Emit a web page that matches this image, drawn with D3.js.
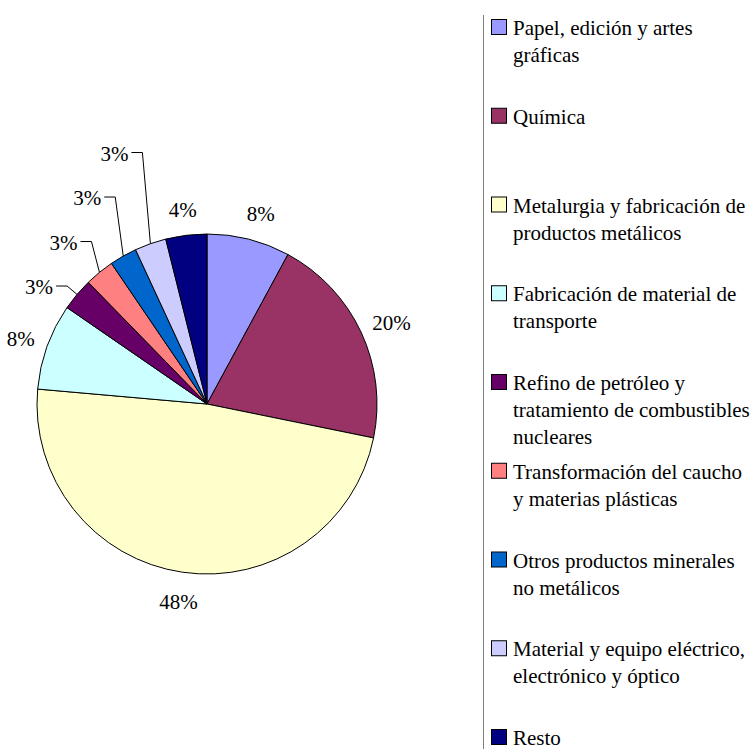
<!DOCTYPE html>
<html>
<head>
<meta charset="utf-8">
<script src="https://cdn.jsdelivr.net/npm/d3@7"></script>
</head>
<body style="margin:0; background:#fff">
<script>
// sectors, clockwise from 12 o'clock
var categories = [
  "Papel, edición y artes\ngráficas",
  "Química",
  "Metalurgia y fabricación de\nproductos metálicos",
  "Fabricación de material de\ntransporte",
  "Refino de petróleo y\ntratamiento de combustibles\nnucleares",
  "Transformación del caucho\ny materias plásticas",
  "Otros productos minerales\nno metálicos",
  "Material y equipo eléctrico,\nelectrónico y óptico",
  "Resto"
];
var shares = [7.9, 20.3, 48.2, 8.2, 3.1, 2.8, 2.6, 3.0, 3.9];
var colors = ["#9999FF", "#993366", "#FFFFCC", "#CCFFFF", "#660066",
              "#FF8080", "#0066CC", "#CCCCFF", "#000080"];

var width = 756, height = 749;
var cx = 207, cy = 404, radius = 170;
var FONT = "'Liberation Serif'";

var svg = d3.select("body").append("svg")
    .attr("width", width)
    .attr("height", height);

var data = categories.map(function(c, i) {
  return { name: c, value: shares[i], color: colors[i] };
});

var pie = d3.pie().sort(null).value(function(d) { return d.value; });
var arcs = pie(data);
var arc = d3.arc().innerRadius(0).outerRadius(radius);

var g = svg.append("g")
    .attr("transform", "translate(" + cx + "," + cy + ")");

g.selectAll(".slice")
    .data(arcs)
  .enter().append("path")
    .attr("class", "slice")
    .attr("d", arc)
    .style("fill", function(d) { return d.data.color; })
    .style("stroke", "#000")
    .style("stroke-width", 1);

// percent labels
var fmt = function(d) { return Math.round(d.data.value) + "%"; };
var labelArc = d3.arc().innerRadius(radius + 28).outerRadius(radius + 28);
var edgeArc = d3.arc().innerRadius(radius).outerRadius(radius);
var outArc = d3.arc().innerRadius(radius + 13).outerRadius(radius + 13);

var isSmall = function(d) { return d.data.value < 3.5; };

g.selectAll(".plabel")
    .data(arcs.filter(function(d) { return !isSmall(d); }))
  .enter().append("text")
    .attr("class", "plabel")
    .attr("transform", function(d) {
      var c = labelArc.centroid(d);
      // nudge a bit sideways, like the original
      return "translate(" + (c[0] + (c[0] > 0 ? 5 : 0)) + "," + (c[1] + 2) + ")";
    })
    .attr("dy", ".35em")
    .style("text-anchor", "middle")
    .style("font-family", FONT)
    .style("font-size", "21px")
    .style("fill", "#000")
    .text(fmt);

// small ones get stacked up on the left with leader lines
var small = arcs.filter(isSmall);
var first = outArc.centroid(small[0]);
small.forEach(function(d, i) {
  var p = edgeArc.centroid(d);
  var elbow = i == 0 ? first : [p[0] - 8, first[1] - 44.5 * i];
  var pts = [p, elbow, [elbow[0] - 11, elbow[1]]];
  g.append("path")
      .attr("d", d3.line()(pts))
      .style("fill", "none")
      .style("stroke", "#000")
      .style("stroke-width", 1);
  g.append("text")
      .attr("x", elbow[0] - 14)
      .attr("y", elbow[1] + 1)
      .attr("dy", ".35em")
      .style("text-anchor", "end")
      .style("font-family", FONT)
      .style("font-size", "21px")
      .style("fill", "#000")
      .text(fmt(d));
});

// legend
var lx = 483.5;
svg.append("line")
    .attr("x1", lx).attr("x2", lx)
    .attr("y1", 15).attr("y2", height)
    .style("stroke", "#808080")
    .style("stroke-width", 1);

var ly = d3.scaleLinear().domain([0, data.length - 1]).range([35, 745]);

var legend = svg.selectAll(".legend")
    .data(data)
  .enter().append("g")
    .attr("class", "legend")
    .attr("transform", function(d, i) { return "translate(0," + ly(i) + ")"; });

legend.append("rect")
    .attr("x", 491.5)
    .attr("y", -15.5)
    .attr("width", 15)
    .attr("height", 15)
    .style("fill", function(d) { return d.color; })
    .style("stroke", "#000")
    .style("stroke-width", 1);

legend.append("text")
    .attr("x", 513)
    .attr("y", 0)
    .style("font-family", FONT)
    .style("font-size", "21px")
    .style("fill", "#000")
    .selectAll("tspan")
    .data(function(d) { return d.name.split("\n"); })
  .enter().append("tspan")
    .attr("x", 513)
    .attr("dy", function(d, i) { return i == 0 ? 0 : 27; })
    .text(function(d) { return d; });
</script>
</body>
</html>
